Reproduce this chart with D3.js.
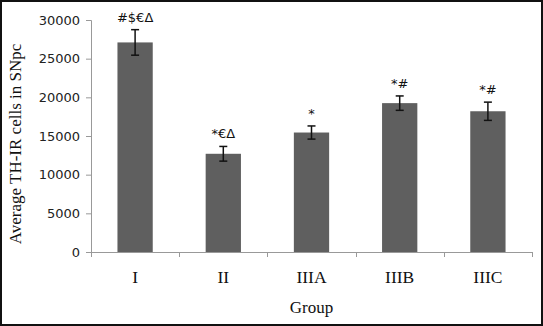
<!DOCTYPE html>
<html>
<head>
<meta charset="utf-8">
<script src="https://cdn.jsdelivr.net/npm/d3@7"></script>
<style>
  body { margin: 0; background: #fff; }
  svg { display: block; }
</style>
</head>
<body>
<script>
var groups = ['I', 'II', 'IIIA', 'IIIB', 'IIIC'];
var means = [27100, 12700, 15450, 19250, 18200];
var errors = [1650, 950, 850, 930, 1180];
var marks = ['#$€Δ', '*€Δ', '*', '*#', '*#'];
var yTicks = [0, 5000, 10000, 15000, 20000, 25000, 30000];

var W = 543, H = 326;
var margin = {left: 91, right: 11, top: 20, bottom: 74};
var width = W - margin.left - margin.right;
var height = H - margin.top - margin.bottom;

var svg = d3.select("body").append("svg").attr("width", W).attr("height", H);

// outer frame
svg.append("rect").attr("x", 1).attr("y", 1).attr("width", W - 2).attr("height", H - 2)
  .attr("fill", "none").attr("stroke", "#111").attr("stroke-width", 2);

var g = svg.append("g").attr("transform", "translate(" + margin.left + "," + margin.top + ")");

var x = d3.scaleBand().domain(groups).range([0, width]).paddingInner(0.6).paddingOuter(0.3);
var y = d3.scaleLinear().domain([0, 30000]).range([height, 0]);

// y axis
var yAxis = d3.axisLeft(y).tickValues(yTicks).tickSize(5).tickPadding(6).tickFormat(d3.format("d"));
var ya = g.append("g").call(yAxis);
ya.select(".domain").attr("stroke", "#999").attr("d", "M-5,0.5H0.5V" + height);
ya.selectAll(".tick line").attr("stroke", "#999");
ya.selectAll("text").attr("font-family", "DejaVu Sans").attr("font-size", 13).attr("fill", "#222");

// x axis, ticks sit on the band edges
var xa = g.append("g").attr("transform", "translate(0," + height + ")");
xa.append("line").attr("x1", 0).attr("x2", width).attr("y1", 0.5).attr("y2", 0.5).attr("stroke", "#999");
var edges = d3.range(groups.length + 1).map(function(i) { return x(groups[0]) - x.paddingOuter() * x.step() + i * x.step(); });
xa.selectAll(".edge").data(edges).enter().append("line")
  .attr("x1", function(d) { return Math.round(d) + 0.5; }).attr("x2", function(d) { return Math.round(d) + 0.5; })
  .attr("y1", 0).attr("y2", 5).attr("stroke", "#999");
xa.selectAll(".lab").data(groups).enter().append("text")
  .attr("x", function(d) { return x(d) + x.bandwidth() / 2; })
  .attr("y", 31).attr("text-anchor", "middle")
  .attr("font-family", "Liberation Serif").attr("font-size", 17.5).attr("fill", "#111")
  .text(function(d) { return d; });

// bars
g.selectAll(".bar").data(groups).enter().append("rect")
  .attr("x", function(d) { return x(d); })
  .attr("y", function(d, i) { return y(means[i]); })
  .attr("width", x.bandwidth())
  .attr("height", function(d, i) { return height - y(means[i]); })
  .attr("fill", "#5f5f5f");

// error bars + significance marks
var eb = g.selectAll(".err").data(groups).enter().append("g")
  .attr("transform", function(d) { return "translate(" + (x(d) + x.bandwidth() / 2) + ",0)"; });
eb.append("line").attr("x1", 0).attr("x2", 0)
  .attr("y1", function(d, i) { return y(means[i] + errors[i]); })
  .attr("y2", function(d, i) { return y(means[i] - errors[i]); })
  .attr("stroke", "#111").attr("stroke-width", 1.5);
eb.append("line").attr("x1", -4).attr("x2", 4)
  .attr("y1", function(d, i) { return y(means[i] + errors[i]); })
  .attr("y2", function(d, i) { return y(means[i] + errors[i]); })
  .attr("stroke", "#111").attr("stroke-width", 1.5);
eb.append("line").attr("x1", -4).attr("x2", 4)
  .attr("y1", function(d, i) { return y(means[i] - errors[i]); })
  .attr("y2", function(d, i) { return y(means[i] - errors[i]); })
  .attr("stroke", "#111").attr("stroke-width", 1.5);
eb.append("text").attr("x", 0)
  .attr("y", function(d, i) { return y(means[i] + errors[i]) - 8; })
  .attr("text-anchor", "middle")
  .attr("font-family", "DejaVu Sans").attr("font-size", 13).attr("fill", "#111")
  .text(function(d, i) { return marks[i]; });

// axis titles
g.append("text").attr("x", width / 2).attr("y", height + 61).attr("text-anchor", "middle")
  .attr("font-family", "Liberation Serif").attr("font-size", 17).attr("fill", "#111").text("Group");
svg.append("text").attr("transform", "translate(21," + (margin.top + height / 2 + 8) + ") rotate(-90)")
  .attr("text-anchor", "middle")
  .attr("font-family", "Liberation Serif").attr("font-size", 17).attr("fill", "#111")
  .text("Average TH-IR cells in SNpc");
</script>
</body>
</html>
